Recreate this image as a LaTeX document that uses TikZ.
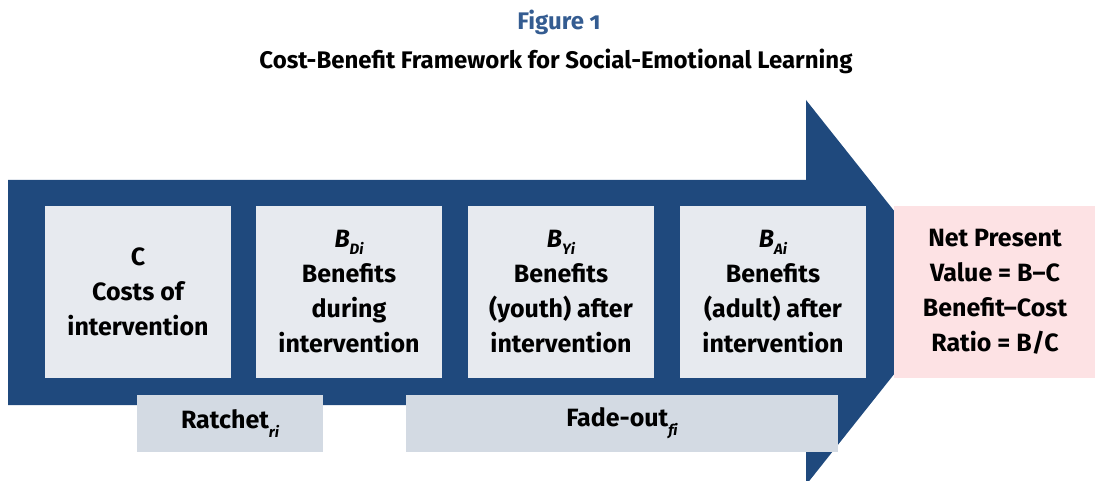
\documentclass[tikz,border=0pt]{standalone}
\usepackage{fontspec}
\setmainfont{Fira Sans}
\definecolor{navy}{RGB}{31,73,125}
\definecolor{boxfill}{RGB}{231,234,239}
\definecolor{barfill}{RGB}{211,218,227}
\definecolor{pinkfill}{RGB}{253,226,228}
\definecolor{figblue}{RGB}{52,92,145}
\newcommand{\Bsub}[1]{\textit{B}\raisebox{-7pt}{\fontsize{15}{15}\selectfont\itshape #1}}
\newcommand{\txsub}[1]{\raisebox{-9pt}{\fontsize{15}{15}\selectfont\itshape #1}}
\begin{document}
\begin{tikzpicture}[x=1pt,y=-1pt,
  boxtext/.style={font=\fontsize{25}{35}\selectfont\bfseries, align=center, inner sep=0pt},
  stagebox/.style={boxtext, fill=boxfill, minimum width=186pt, minimum height=172pt},
  barbox/.style={boxtext, fill=barfill, minimum height=57pt},
  npvbox/.style={boxtext, fill=pinkfill, minimum width=203pt, minimum height=172pt}]
\useasboundingbox (0,0) rectangle (1095,481);
\begin{scope}
\clip (0,0) rectangle (1095,481);
\fill[navy] (8,180) -- (806,180) -- (806,100) -- (959,292.5) -- (806,485) -- (806,405) -- (8,405) -- cycle;
\end{scope}
\node[font=\fontsize{24}{28}\selectfont\bfseries, text=figblue] (fig) at (559,22) {Figure {\addfontfeatures{Numbers=OldStyle}1}};
\node[font=\fontsize{24}{28}\selectfont\bfseries] (title) at (556,61) {Cost-Benefit Framework for Social-Emotional Learning};
\node[stagebox] (c) at (138,292) {C\\Costs of\\intervention};
\node[stagebox] (bd) at (349,292) {\Bsub{Di}\\Benefits\\during\\intervention};
\node[stagebox] (by) at (561,292) {\Bsub{Yi}\\Benefits\\(youth) after\\intervention};
\node[stagebox] (ba) at (773,292) {\Bsub{Ai}\\Benefits\\(adult) after\\intervention};
\node[npvbox] (npv) at (995,292) {Net Present\\Value = B--C\\Benefit--Cost\\Ratio = B/C};
\node[barbox, minimum width=186pt] (ratchet) at (230,423.5) {Ratchet\txsub{ri}};
\node[barbox, minimum width=432pt] (fade) at (622,423.5) {Fade-out\txsub{f\kern0pt i}};
\end{tikzpicture}
\end{document}
